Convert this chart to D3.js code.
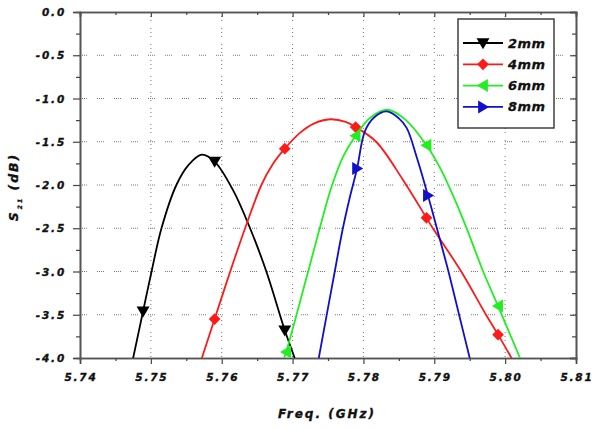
<!DOCTYPE html>
<meta charset="utf-8">
<style>
body { margin: 0; padding: 0; background: #fff; }
svg { display: block; }
.tick-label { font-family: "DejaVu Sans", sans-serif; font-weight: bold; font-style: italic; font-size: 10.5px; letter-spacing: 1.8px; fill: #111; stroke: #111; stroke-width: 0.35px; }
.title { font-family: "DejaVu Sans", sans-serif; font-weight: bold; font-style: italic; font-size: 12px; letter-spacing: 2px; fill: #111; stroke: #111; stroke-width: 0.35px; }
.legend-text { font-family: "DejaVu Sans", sans-serif; font-weight: bold; font-style: italic; font-size: 13px; letter-spacing: 0.4px; fill: #111; stroke: #111; stroke-width: 0.3px; }
</style>
<body>
<div id="chart"></div>
<script src="https://cdnjs.cloudflare.com/ajax/libs/d3/7.8.5/d3.min.js"></script>
<script>

// series (GHz, dB)
var series = ["2mm", "4mm", "6mm", "8mm"];
var colors = ["#000000", "#ff1a1a", "#22ee22", "#1010cc"];
var shapes = ["down", "diamond", "left", "right"];

var freq2 = [5.7475, 5.7489, 5.7501, 5.7515, 5.7536, 5.7553, 5.7572, 5.7590, 5.7616, 5.7640, 5.7663, 5.7689, 5.7703];
var s2    = [-4.0, -3.46, -3.0, -2.5, -2.0, -1.77, -1.65, -1.73, -2.06, -2.5, -3.0, -3.68, -4.0];

var freq4 = [5.7572, 5.7590, 5.7612, 5.7633, 5.7656, 5.7672, 5.7689, 5.7710, 5.7730, 5.7753, 5.7775, 5.7789, 5.7818, 5.7855, 5.7889, 5.7898, 5.7938, 5.7973, 5.7990, 5.8009];
var s4    = [-4.0, -3.55, -3.0, -2.5, -2.0, -1.76, -1.58, -1.40, -1.29, -1.24, -1.27, -1.33, -1.50, -1.93, -2.38, -2.5, -3.0, -3.5, -3.73, -4.0];

var freq6 = [5.7688, 5.7691, 5.7722, 5.7739, 5.7755, 5.7772, 5.7789, 5.7810, 5.7834, 5.7860, 5.7889, 5.7908, 5.7929, 5.7948, 5.7969, 5.7990, 5.8021];
var s6    = [-4.0, -3.93, -3.0, -2.48, -2.02, -1.66, -1.43, -1.22, -1.13, -1.25, -1.54, -1.80, -2.17, -2.55, -3.0, -3.40, -4.0];

var freq8 = [5.7737, 5.7748, 5.7760, 5.7770, 5.7780, 5.7791, 5.7802, 5.7815, 5.7833, 5.7850, 5.7861, 5.7876, 5.7891, 5.7905, 5.7920, 5.7935, 5.7950];
var s8    = [-4.0, -3.51, -2.98, -2.54, -2.17, -1.81, -1.38, -1.22, -1.15, -1.23, -1.34, -1.70, -2.12, -2.54, -3.0, -3.5, -4.0];

// where the symbols sit
var mark2 = [[5.7489, -3.46], [5.7590, -1.73], [5.7689, -3.68]];
var mark4 = [[5.7590, -3.55], [5.7689, -1.58], [5.7789, -1.33], [5.7889, -2.38], [5.7990, -3.73]];
var mark6 = [[5.7691, -3.93], [5.7789, -1.43], [5.7889, -1.54], [5.7990, -3.40]];
var mark8 = [[5.7791, -1.81], [5.7891, -2.12]];

var xTicks = [5.74, 5.75, 5.76, 5.77, 5.78, 5.79, 5.80, 5.81];
var xLabels = ["5.74", "5.75", "5.76", "5.77", "5.78", "5.79", "5.80", "5.81"];
var yTicks = [0, -0.5, -1.0, -1.5, -2.0, -2.5, -3.0, -3.5, -4.0];
var yLabels = ["0.0", "-0.5", "-1.0", "-1.5", "-2.0", "-2.5", "-3.0", "-3.5", "-4.0"];

var curves = [
  { x: freq2, y: s2, m: mark2 },
  { x: freq4, y: s4, m: mark4 },
  { x: freq6, y: s6, m: mark6 },
  { x: freq8, y: s8, m: mark8 }
];

var W = 598, H = 428;
var margin = { left: 80, right: 22, top: 12, bottom: 70 };

var svg = d3.select("#chart").append("svg")
    .attr("width", W).attr("height", H);

var x = d3.scaleLinear().domain([5.74, 5.81]).range([margin.left, W - margin.right]);
var y = d3.scaleLinear().domain([-4, 0]).range([H - margin.bottom, margin.top]);

svg.append("clipPath").attr("id", "clip").append("rect")
    .attr("x", x(5.74)).attr("y", y(0))
    .attr("width", x(5.81) - x(5.74)).attr("height", y(-4) - y(0));

// dotted grid
var grid = svg.append("g").attr("stroke", "#777").attr("stroke-width", 1);
grid.selectAll(".gx").data(xTicks.slice(1, -1)).enter().append("line")
    .attr("x1", d => x(d)).attr("x2", d => x(d))
    .attr("y1", y(0)).attr("y2", y(-4))
    .attr("stroke-dasharray", "1,3,1,3,1,7");
grid.selectAll(".gy").data(yTicks.slice(1, -1)).enter().append("line")
    .attr("y1", d => y(d)).attr("y2", d => y(d))
    .attr("x1", x(5.74)).attr("x2", x(5.81))
    .attr("stroke-dasharray", "1,1,1,1,1,1,1,10");

// axes: outward on bottom/left, inward on top/right
var xMinor = d3.range(5.745, 5.81, 0.01);
var yMinor = d3.range(-3.75, 0, 0.5);

svg.append("g").attr("transform", "translate(0," + y(-4) + ")")
    .call(d3.axisBottom(x).tickValues(xTicks).tickFormat("").tickSize(6));
svg.append("g").attr("transform", "translate(0," + y(-4) + ")")
    .call(d3.axisBottom(x).tickValues(xMinor).tickFormat("").tickSize(3));
svg.append("g").attr("transform", "translate(0," + y(0) + ")")
    .call(d3.axisBottom(x).tickValues(xTicks).tickFormat("").tickSize(5));
svg.append("g").attr("transform", "translate(0," + y(0) + ")")
    .call(d3.axisBottom(x).tickValues(xMinor).tickFormat("").tickSize(3));
svg.append("g").attr("transform", "translate(" + x(5.74) + ",0)")
    .call(d3.axisLeft(y).tickValues(yTicks).tickFormat("").tickSize(7));
svg.append("g").attr("transform", "translate(" + x(5.74) + ",0)")
    .call(d3.axisLeft(y).tickValues(yMinor).tickFormat("").tickSize(4));
svg.append("g").attr("transform", "translate(" + x(5.81) + ",0)")
    .call(d3.axisLeft(y).tickValues(yTicks).tickFormat("").tickSize(6));
svg.append("g").attr("transform", "translate(" + x(5.81) + ",0)")
    .call(d3.axisLeft(y).tickValues(yMinor).tickFormat("").tickSize(4));

svg.selectAll(".domain").attr("stroke", "#555").attr("stroke-width", 1.6);
svg.selectAll(".tick line").attr("stroke", "#444").attr("stroke-width", 1.2);

// tick labels
svg.selectAll(".xl").data(xTicks).enter().append("text")
    .attr("class", "tick-label")
    .attr("x", d => x(d) + 1).attr("y", y(-4) + 23)
    .attr("text-anchor", "middle")
    .text((d, i) => xLabels[i]);
svg.selectAll(".yl").data(yTicks).enter().append("text")
    .attr("class", "tick-label")
    .attr("x", x(5.74) - 14).attr("y", d => y(d) + 4)
    .attr("text-anchor", "end")
    .text((d, i) => yLabels[i]);

// titles
svg.append("text").attr("class", "title")
    .attr("x", 327).attr("y", 418).attr("text-anchor", "middle")
    .text("Freq. (GHz)");
var yt = svg.append("text").attr("class", "title")
    .attr("transform", "translate(18,187) rotate(-90)")
    .attr("text-anchor", "middle")
    .style("font-size", "12.5px");
yt.append("tspan").text("S");
yt.append("tspan").attr("font-size", "6px").attr("dy", 4).attr("dx", 1).text("21");
yt.append("tspan").attr("dy", -4).text(" (dB)");

// symbol paths
function symbolPath(shape, s) {
  if (shape === "down") return "M" + (-s) + "," + (-s * 0.75) + "L" + s + "," + (-s * 0.75) + "L0," + (s * 0.95) + "Z";
  if (shape === "left") return "M" + (s * 0.75) + "," + (-s) + "L" + (s * 0.75) + "," + s + "L" + (-s * 0.95) + ",0Z";
  if (shape === "right") return "M" + (-s * 0.75) + "," + (-s) + "L" + (-s * 0.75) + "," + s + "L" + (s * 0.95) + ",0Z";
  return "M0," + (-s * 0.9) + "L" + (s * 0.9) + ",0L0," + (s * 0.9) + "L" + (-s * 0.9) + ",0Z";
}

var line = d3.line().curve(d3.curveCatmullRom.alpha(0.5))
    .x(d => x(d[0])).y(d => y(d[1]));

var plot = svg.append("g").attr("clip-path", "url(#clip)");
curves.forEach(function(c, i) {
  var pts = c.x.map((v, j) => [v, c.y[j]]);
  plot.append("path").datum(pts)
      .attr("d", line)
      .attr("fill", "none")
      .attr("stroke", colors[i])
      .attr("stroke-width", 1.8);
  plot.selectAll(".m" + i).data(c.m).enter().append("path")
      .attr("transform", d => "translate(" + x(d[0]) + "," + y(d[1]) + ")")
      .attr("d", symbolPath(shapes[i], 6.5))
      .attr("fill", colors[i]);
});

// legend
var lg = svg.append("g");
lg.append("rect")
    .attr("x", 458).attr("y", 19).attr("width", 96).attr("height", 109)
    .attr("fill", "#fff").attr("stroke", "#333").attr("stroke-width", 1.4);
series.forEach(function(name, i) {
  var yy = 43 + i * 21.3;
  lg.append("line").attr("x1", 463).attr("x2", 503).attr("y1", yy).attr("y2", yy)
      .attr("stroke", colors[i]).attr("stroke-width", 1.8);
  lg.append("path").attr("transform", "translate(483," + yy + ")")
      .attr("d", symbolPath(shapes[i], 6.5)).attr("fill", colors[i]);
  lg.append("text").attr("class", "legend-text")
      .attr("x", 508).attr("y", yy + 4.5).text(name);
});

</script>
